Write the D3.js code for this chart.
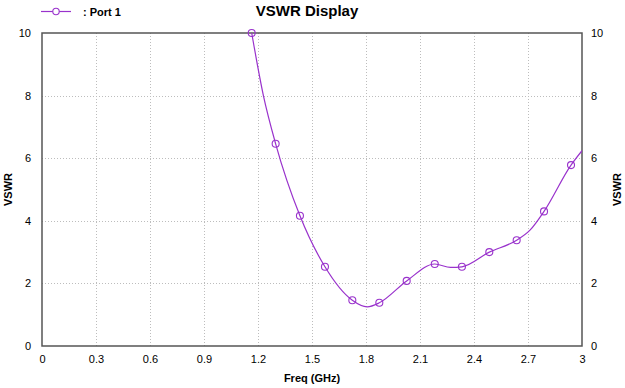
<!DOCTYPE html>
<html>
<head>
<meta charset="utf-8">
<script src="https://cdn.jsdelivr.net/npm/d3@7"></script>
<style>
  body { margin: 0; background: #fff; }
  text { font-family: "Liberation Sans", Arial, sans-serif; fill: #000; }
</style>
</head>
<body>
<script>
"use strict";

const width = 625;
const height = 388;

// markers
const markerFreq = [1.165, 1.298, 1.433, 1.572, 1.724, 1.874, 2.026, 2.182, 2.333, 2.485, 2.637, 2.789, 2.939];
const markerVswr = [10.0, 6.46, 4.16, 2.53, 1.46, 1.38, 2.08, 2.62, 2.53, 3.00, 3.38, 4.30, 5.78];

// extra points along the curve between markers
const curveFreq = [1.23, 1.807, 2.27, 2.711, 3.0];
const curveVswr = [8.0, 1.25, 2.51, 3.70, 6.24];

const xTicks = [0, 0.3, 0.6, 0.9, 1.2, 1.5, 1.8, 2.1, 2.4, 2.7, 3];
const yTicks = [0, 2, 4, 6, 8, 10];

const color = "#9932cc";

const margin = { top: 33, right: 43, bottom: 42, left: 42 };

const svg = d3.select("body")
  .append("svg")
  .attr("width", width)
  .attr("height", height);

const x = d3.scaleLinear().domain([0, 3]).range([margin.left, width - margin.right]);
const y = d3.scaleLinear().domain([0, 10]).range([height - margin.bottom, margin.top]);

// grid
const grid = svg.append("g").attr("class", "grid")
  .attr("stroke", "#bdbdbd")
  .attr("stroke-width", 1)
  .attr("stroke-dasharray", "1,2");

grid.selectAll(".gx")
  .data(xTicks.slice(1, -1))
  .enter()
  .append("line")
  .attr("x1", d => Math.round(x(d)) + 0.5)
  .attr("x2", d => Math.round(x(d)) + 0.5)
  .attr("y1", y(10))
  .attr("y2", y(0));

grid.selectAll(".gy")
  .data(yTicks.slice(1, -1))
  .enter()
  .append("line")
  .attr("x1", x(0))
  .attr("x2", x(3))
  .attr("y1", d => Math.round(y(d)) + 0.5)
  .attr("y2", d => Math.round(y(d)) + 0.5);

// axes
const xAxis = d3.axisBottom(x).tickValues(xTicks).tickSize(0).tickPadding(9)
  .tickFormat(d => d3.format("")(d));
const yLeft = d3.axisLeft(y).tickValues(yTicks).tickSize(0).tickPadding(11);
const yRight = d3.axisRight(y).tickValues(yTicks).tickSize(0).tickPadding(9);

function styleAxis(g) {
  g.select(".domain").remove();
  g.selectAll("text")
    .style("font-family", "'Liberation Sans', Arial, sans-serif")
    .style("font-size", "11px")
    .attr("fill", "#000");
}

svg.append("g")
  .attr("transform", `translate(0,${y(0)})`)
  .call(xAxis).call(styleAxis);
svg.append("g")
  .attr("transform", `translate(${x(0)},0)`)
  .call(yLeft).call(styleAxis);
svg.append("g")
  .attr("transform", `translate(${x(3)},0)`)
  .call(yRight).call(styleAxis);

// frame
svg.append("rect")
  .attr("x", x(0))
  .attr("y", y(10))
  .attr("width", x(3) - x(0))
  .attr("height", y(0) - y(10))
  .attr("fill", "none")
  .attr("stroke", "#555")
  .attr("stroke-width", 1.5);

// curve
svg.append("clipPath").attr("id", "plot-clip")
  .append("rect")
  .attr("x", x(0)).attr("y", y(10) - 1)
  .attr("width", x(3) - x(0)).attr("height", y(0) - y(10) + 1);

const markers = markerFreq.map((f, i) => ({ f: f, v: markerVswr[i] }));
const linePts = markers
  .concat(curveFreq.map((f, i) => ({ f: f, v: curveVswr[i] })))
  .sort((a, b) => a.f - b.f);

const line = d3.line()
  .x(d => x(d.f))
  .y(d => y(d.v))
  .curve(d3.curveMonotoneX);

svg.append("path")
  .datum(linePts)
  .attr("clip-path", "url(#plot-clip)")
  .attr("d", line)
  .attr("fill", "none")
  .attr("stroke", color)
  .attr("stroke-width", 1.2);

svg.selectAll(".marker")
  .data(markers)
  .enter()
  .append("circle")
  .attr("cx", d => x(d.f))
  .attr("cy", d => y(d.v))
  .attr("r", 3.5)
  .attr("fill", "none")
  .attr("stroke", color)
  .attr("stroke-width", 1.1);

// labels
svg.append("text")
  .attr("x", 307)
  .attr("y", 16)
  .attr("text-anchor", "middle")
  .style("font-size", "15px")
  .style("font-weight", "bold")
  .text("VSWR Display");

svg.append("text")
  .attr("x", x(1.5))
  .attr("y", 382)
  .attr("text-anchor", "middle")
  .style("font-size", "11px")
  .style("font-weight", "bold")
  .text("Freq (GHz)");

svg.append("text")
  .attr("transform", `translate(12,${(y(0) + y(10)) / 2}) rotate(-90)`)
  .attr("text-anchor", "middle")
  .style("font-size", "11px")
  .style("font-weight", "bold")
  .text("VSWR");

svg.append("text")
  .attr("transform", `translate(621,${(y(0) + y(10)) / 2}) rotate(-90)`)
  .attr("text-anchor", "middle")
  .style("font-size", "11px")
  .style("font-weight", "bold")
  .text("VSWR");

// legend
const legend = svg.append("g");
legend.append("line")
  .attr("x1", 41).attr("x2", 71)
  .attr("y1", 11.5).attr("y2", 11.5)
  .attr("stroke", color)
  .attr("stroke-width", 1.2);
legend.append("circle")
  .attr("cx", 56).attr("cy", 11.5).attr("r", 3.2)
  .attr("fill", "#fff")
  .attr("stroke", color)
  .attr("stroke-width", 1.1);
legend.append("text")
  .attr("x", 83)
  .attr("y", 15.5)
  .style("font-size", "11px")
  .style("font-weight", "bold")
  .text(": Port 1");
</script>
</body>
</html>
